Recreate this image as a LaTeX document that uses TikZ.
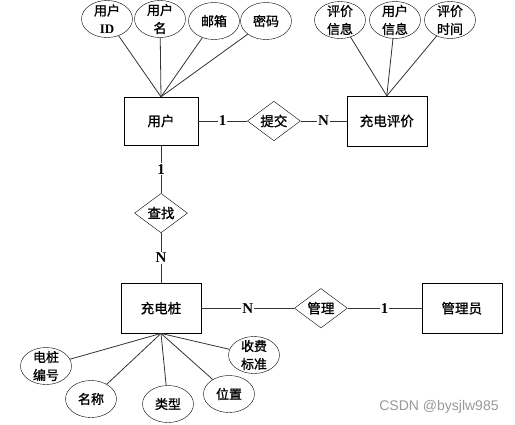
\documentclass[tikz,border=0pt]{standalone}
\usepackage{fontspec}
\setmainfont{Noto Sans CJK SC}[FakeBold=1.2]
\newfontfamily\latin{Liberation Serif}
\newfontfamily\wmfont{Liberation Sans}
\usepackage{tikz}
\usetikzlibrary{positioning, shapes.geometric}

\begin{document}
\begin{tikzpicture}[x=1pt, y=-1pt,
  entity/.style={draw, minimum width=80pt, minimum height=50pt, font=\fontsize{13.5}{16}\selectfont},
  rel/.style={draw, diamond, minimum width=53pt, minimum height=36pt, inner sep=0pt, font=\fontsize{13.5}{16}\selectfont},
  attr/.style={draw, ellipse, minimum width=51pt, minimum height=37pt, inner sep=-4pt, align=center, font=\fontsize{13}{18}\selectfont},
  card/.style={fill=white, inner sep=1pt, font=\latin\bfseries\fontsize{15}{15}\selectfont},
  link/.style={draw=black!80, line width=0.8pt}
]
\useasboundingbox (0,0) rectangle (515,424);

\node[entity, minimum width=74pt, minimum height=48pt] (user) at (161,121) {用户};
\node[rel, right=49pt of user] (submit) {提交};
\node[entity, right=46pt of submit] (review) {充电评价};
\node[rel, below=48pt of user] (find) {查找};
\node[entity, below=50pt of find] (pile) {充电桩};
\node[rel, right=93pt of pile] (manage) {管理};
\node[entity, right=74pt of manage] (admin) {管理员};

\node[attr] (uid) at (107,19) {用户\\{\latin\bfseries ID}};
\node[attr] (uname) at (160,19) {用户\\名};
\node[attr] (email) at (214,21) {邮箱};
\node[attr] (pwd) at (266,21) {密码};

\node[attr] (rinfo) at (340,20) {评价\\信息};
\node[attr] (ruser) at (395,20) {用户\\信息};
\node[attr] (rtime) at (450,20) {评价\\时间};

\node[attr] (pno) at (46,366) {电桩\\编号};
\node[attr] (pname) at (91,399) {名称};
\node[attr] (ptype) at (168,404) {类型};
\node[attr] (ploc) at (229,394) {位置};
\node[attr] (pfee) at (254,355) {收费\\标准};

\foreach \a in {uid, uname, email, pwd} \draw[link] (user.north) -- (\a);
\foreach \a in {rinfo, ruser, rtime} \draw[link] (review.north) -- (\a);
\foreach \a in {pno, pname, ptype, ploc, pfee} \draw[link] (pile.south) -- (\a);

\draw[link] (user) -- node[card] {1} (submit);
\draw[link] (submit) -- node[card] {N} (review);
\draw[link] (user) -- node[card] {1} (find);
\draw[link] (find) -- node[card] {N} (pile);
\draw[link] (pile) -- node[card] {N} (manage);
\draw[link] (manage) -- node[card] {1} (admin);

\node[font=\wmfont\fontsize{14}{14}\selectfont, text=black!40] (wm) at (439,407) {CSDN @bysjlw985};
\end{tikzpicture}
\end{document}
